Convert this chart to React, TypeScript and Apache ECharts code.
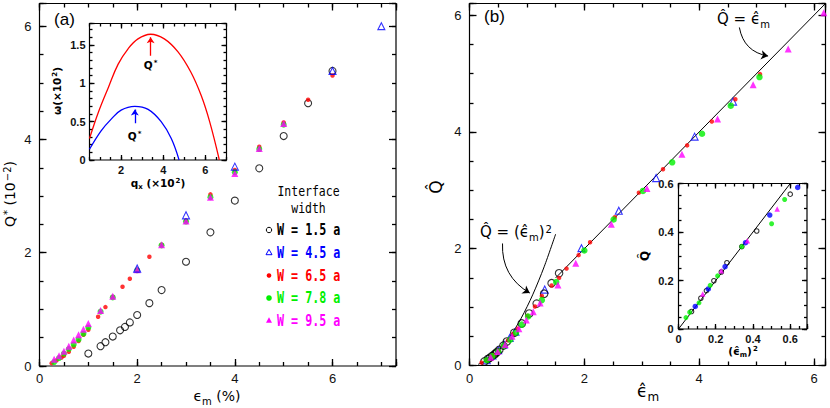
import React, { useEffect, useRef } from "react";
import * as echarts from "echarts";

// ---------------- Panel (a): Q* vs eps_m ----------------
const epsA_W15 = [1.0, 1.25, 1.35, 1.5, 1.65, 1.75, 1.85, 2.0, 2.25, 2.5, 3.0, 3.5, 4.0, 4.5, 5.0, 5.5, 6.0];
const QA_W15 = [0.22, 0.35, 0.42, 0.52, 0.63, 0.69, 0.77, 0.9, 1.11, 1.34, 1.84, 2.36, 2.92, 3.49, 4.06, 4.64, 5.21];
const epsA_W45 = [2.0, 3.0, 4.0, 6.0, 7.0];
const QA_W45 = [1.72, 2.66, 3.52, 5.21, 6.0];
const epsA_W65 = [0.25, 0.35, 0.45, 0.5, 0.6, 0.7, 0.8, 0.9, 1.0, 1.2, 1.35, 1.5, 1.7, 1.85, 2.0, 2.25, 2.5, 3.0, 3.5, 4.0, 4.5, 5.0, 5.5, 6.0];
const QA_W65 = [0.05, 0.1, 0.15, 0.18, 0.25, 0.34, 0.44, 0.55, 0.64, 0.87, 1.04, 1.22, 1.4, 1.54, 1.7, 1.93, 2.14, 2.57, 3.03, 3.46, 3.87, 4.3, 4.7, 5.13];
const epsA_W78 = [0.3, 0.4, 0.5, 0.6, 0.7, 0.8, 0.9, 1.0, 1.25, 1.5, 2.0, 2.5, 3.0, 3.5, 4.0, 4.5, 5.0];
const QA_W78 = [0.07, 0.14, 0.22, 0.3, 0.38, 0.47, 0.57, 0.68, 0.96, 1.21, 1.69, 2.13, 2.55, 2.98, 3.42, 3.83, 4.26];
const epsA_W95 = [0.3, 0.4, 0.5, 0.6, 0.7, 0.8, 0.9, 1.0, 1.25, 1.5, 2.0, 2.5, 3.0, 3.5, 4.0, 4.5, 5.0];
const QA_W95 = [0.12, 0.18, 0.26, 0.35, 0.46, 0.55, 0.65, 0.75, 0.98, 1.23, 1.7, 2.14, 2.56, 2.98, 3.4, 3.84, 4.28];

// Inset (a): growth rate omega vs q_x
const qRed = [0.5, 0.93, 1.4, 1.86, 2.33, 2.8, 3.4, 4.05, 4.7, 5.3, 5.8, 6.2, 6.66];
const omegaRed = [0.28, 0.63, 0.95, 1.25, 1.45, 1.58, 1.64, 1.58, 1.41, 1.15, 0.84, 0.5, 0.0];
const qBlue = [0.5, 1.05, 1.52, 2.0, 2.65, 3.28, 3.9, 4.38, 4.75];
const omegaBlue = [0.14, 0.38, 0.53, 0.65, 0.7, 0.66, 0.5, 0.28, 0.0];
const arrowRedA = [[3.4, 1.36], [3.4, 1.6]];
const arrowBlueA = [[2.65, 0.48], [2.65, 0.66]];

// ---------------- Panel (b): scaled Q vs scaled eps ----------------
const epsB_W15 = [0.26, 0.32, 0.35, 0.39, 0.43, 0.46, 0.48, 0.52, 0.59, 0.65, 0.78, 0.91, 1.04, 1.17, 1.3, 1.43, 1.56];
const QB_W15 = [0.07, 0.11, 0.13, 0.16, 0.19, 0.21, 0.23, 0.27, 0.34, 0.41, 0.56, 0.72, 0.89, 1.06, 1.23, 1.41, 1.58];
const epsB_W45 = [0.3, 0.4, 0.5, 0.6, 0.7, 0.8, 1.31, 1.95, 2.6, 3.25, 3.92, 4.59];
const QB_W45 = [0.09, 0.17, 0.26, 0.36, 0.47, 0.58, 1.3, 2.01, 2.65, 3.21, 3.92, 4.52];
const epsB_W65 = [0.21, 0.3, 0.38, 0.42, 0.51, 0.59, 0.67, 0.76, 0.84, 1.01, 1.14, 1.26, 1.43, 1.56, 1.69, 1.9, 2.1, 2.53, 2.95, 3.37, 3.79, 4.22, 4.63, 5.06];
const QB_W65 = [0.05, 0.1, 0.15, 0.18, 0.25, 0.33, 0.43, 0.54, 0.63, 0.85, 1.01, 1.19, 1.37, 1.5, 1.66, 1.89, 2.11, 2.54, 2.96, 3.36, 3.77, 4.18, 4.56, 4.99];
const epsB_W78 = [0.3, 0.4, 0.5, 0.6, 0.71, 0.81, 0.91, 1.02, 1.26, 1.51, 2.0, 2.51, 3.02, 3.53, 4.05, 4.55, 5.05];
const QB_W78 = [0.09, 0.16, 0.24, 0.34, 0.44, 0.56, 0.7, 0.84, 1.12, 1.43, 1.97, 2.5, 2.99, 3.48, 3.97, 4.45, 4.94];
const epsB_W95 = [0.37, 0.49, 0.62, 0.74, 0.86, 0.99, 1.11, 1.23, 1.54, 1.85, 2.47, 3.09, 3.7, 4.32, 4.94, 5.55, 6.17];
const QB_W95 = [0.14, 0.24, 0.36, 0.5, 0.63, 0.78, 0.92, 1.07, 1.38, 1.75, 2.42, 3.03, 3.62, 4.22, 4.81, 5.42, 6.04];
const lineEps = [1.5, 6.2];
const lineQ = [1.5, 6.2];
const parabEps = [0.15, 0.3, 0.5, 0.7, 0.9, 1.1, 1.3, 1.5];
const parabQ = [0.02, 0.09, 0.25, 0.49, 0.81, 1.21, 1.69, 2.25];
const arrowLinB = [[4.7, 5.79], [5.2, 5.3]];
const arrowParB = [[0.575, 2.09], [1.05, 1.24]];

// Inset (b): Q vs eps^2
const e2_black = [0.07, 0.12, 0.15, 0.19, 0.23, 0.26, 0.34, 0.42, 0.6];
const Qi_black = [0.072, 0.127, 0.158, 0.199, 0.235, 0.273, 0.34, 0.404, 0.556];
const e2_blue = [0.09, 0.16, 0.25, 0.36, 0.49, 0.64];
const Qi_blue = [0.093, 0.165, 0.257, 0.356, 0.47, 0.584];
const e2_green = [0.04, 0.06, 0.11, 0.17, 0.21, 0.34, 0.5, 0.57];
const Qi_green = [0.047, 0.069, 0.108, 0.18, 0.219, 0.34, 0.434, 0.534];
const e2_mag = [0.13, 0.23, 0.37, 0.53];
const Qi_mag = [0.144, 0.24, 0.364, 0.495];
const insetLineX = [0, 0.6];
const insetLineY = [0, 0.6];

// tick labels (major) per axis
const ticksA_x = [0, 2, 4, 6];
const ticksA_y = [0, 2, 4, 6];
const ticksIA_x = [2, 4, 6];
const ticksIA_y = [0, 0.5, 1, 1.5];
const ticksB_x = [0, 2, 4, 6];
const ticksB_y = [0, 2, 4, 6];
const ticksIB_x = [0, 0.2, 0.4, 0.6];
const ticksIB_y = [0, 0.2, 0.4, 0.6];

const legendNames = ["W = 1.5 a", "W = 4.5 a", "W = 6.5 a", "W = 7.8 a", "W = 9.5 a"];

const C_BLACK = "#000000";
const C_BLUE = "#0000ff";
const C_RED = "#ff0000";
const C_GREEN = "#00f000";
const C_MAG = "#ff00ff";

const TICK_FONT = "Liberation Sans";
const MATH_FONT = "DejaVu Sans";

const pair = (xs: number[], ys: number[]) => xs.map((x, i) => [x, ys[i]]);
const near = (a: number, b: number) => Math.abs(a - b) < 1e-6;
const fmtNum = (v: number) => String(parseFloat(v.toFixed(3)));

type GridBox = { left: number; top: number; width: number; height: number };
type GridCfg = {
  xmin: number; xmax: number; ymin: number; ymax: number;
  xStep: number; yStep: number; xMinor: number; yMinor: number;
  xLabels: number[]; yLabels: number[];
  majLen: number; minLen: number; font: number; weight: string; xMargin: number; yMargin: number;
};

// Built-in axes: for each side one axis with short (minor) ticks that also carries the labels,
// plus one axis with long (major) ticks where min is a multiple of the major step.
function axesFor(g: number, c: GridCfg) {
  const lab = (labels: number[], margin: number) => ({
    show: true,
    margin,
    color: "#111",
    fontFamily: TICK_FONT,
    fontSize: c.font,
    fontWeight: c.weight,
    hideOverlap: false,
    showMinLabel: true,
    showMaxLabel: true,
    formatter: (v: number) => (labels.some((l) => near(l, v)) ? fmtNum(v) : ""),
  });
  const tick = (len: number) => ({ show: true, inside: true, length: len, lineStyle: { color: "#000", width: 1.3 } });
  const mk = (position: string, min: number, max: number, interval: number, len: number, label: any) => ({
    type: "value",
    gridIndex: g,
    position,
    min,
    max,
    interval,
    axisLine: { show: false, onZero: false },
    axisTick: tick(len),
    axisLabel: label || { show: false },
    splitLine: { show: false },
    splitArea: { show: false },
    minorTick: { show: false },
    minorSplitLine: { show: false },
  });
  const xMajMin = Math.ceil(c.xmin / c.xStep - 1e-6) * c.xStep;
  const yMajMin = Math.ceil(c.ymin / c.yStep - 1e-6) * c.yStep;
  // major-tick axes use a min that is a multiple of the major step; if it differs from the grid min,
  // we still need the same scale, so majors only get drawn when the min already aligns.
  const xAlign = near(xMajMin, c.xmin);
  const yAlign = near(yMajMin, c.ymin);
  const xs: any[] = [
    mk("bottom", c.xmin, c.xmax, c.xMinor, c.minLen, lab(c.xLabels, c.xMargin)),
    mk("top", c.xmin, c.xmax, c.xMinor, c.minLen, null),
  ];
  const ys: any[] = [
    mk("left", c.ymin, c.ymax, c.yMinor, c.minLen, lab(c.yLabels, c.yMargin)),
    mk("right", c.ymin, c.ymax, c.yMinor, c.minLen, null),
  ];
  if (xAlign) {
    xs.push(mk("bottom", c.xmin, c.xmax, c.xStep, c.majLen, null));
    xs.push(mk("top", c.xmin, c.xmax, c.xStep, c.majLen, null));
  }
  if (yAlign) {
    ys.push(mk("left", c.ymin, c.ymax, c.yStep, c.majLen, null));
    ys.push(mk("right", c.ymin, c.ymax, c.yStep, c.majLen, null));
  }
  return { xs, ys, xAlign, yAlign };
}

function scatter(name: string, xi: number, yi: number, xs: number[], ys: number[], symbol: string, size: number, color: string, open: boolean) {
  return {
    type: "scatter",
    name,
    xAxisIndex: xi,
    yAxisIndex: yi,
    data: pair(xs, ys),
    symbol,
    symbolSize: size,
    itemStyle: open
      ? { color: "rgba(0,0,0,0)", borderColor: color, borderWidth: 1.1 }
      : { color, borderWidth: 0 },
    silent: true,
    z: 3,
  };
}

function curve(xi: number, yi: number, xs: number[], ys: number[], color: string, width: number, smooth: boolean | number) {
  return {
    type: "line",
    xAxisIndex: xi,
    yAxisIndex: yi,
    data: pair(xs, ys),
    showSymbol: false,
    symbol: "none",
    smooth,
    lineStyle: { color, width },
    silent: true,
    z: 2,
  };
}

function arrow(xi: number, yi: number, pts: number[][], color: string, width: number, curveness: number, size: number) {
  return {
    type: "lines",
    coordinateSystem: "cartesian2d",
    xAxisIndex: xi,
    yAxisIndex: yi,
    symbol: ["none", "arrow"],
    symbolSize: size,
    lineStyle: { color, width, curveness, opacity: 1 },
    data: [{ coords: pts }],
    silent: true,
    z: 4,
  };
}

// long major ticks for an inset whose x min (0.5) is not a multiple of the major step
function majorTickLines(xi: number, yi: number, vals: number[], y0: number, y1: number, d: number) {
  const data: any[] = [];
  vals.forEach((v) => {
    data.push({ coords: [[v, y0], [v, y0 + d]] });
    data.push({ coords: [[v, y1], [v, y1 - d]] });
  });
  return {
    type: "lines",
    coordinateSystem: "cartesian2d",
    xAxisIndex: xi,
    yAxisIndex: yi,
    symbol: ["none", "none"],
    lineStyle: { color: "#000", width: 1.3, opacity: 1, curveness: 0 },
    data,
    silent: true,
    z: 6,
  };
}

const txt = (x: number, y: number, text: string, rich: any, opts: any = {}) => ({
  type: "text",
  x,
  y,
  rotation: opts.rotation || 0,
  scaleX: opts.scaleX || 1,
  silent: true,
  z: 100,
  style: {
    text,
    rich,
    fill: opts.fill || "#000",
    font: opts.font,
    align: opts.align || "center",
    verticalAlign: opts.verticalAlign || "middle",
    textAlign: opts.align || "center",
    textVerticalAlign: opts.verticalAlign || "middle",
  },
});

function richSet(size: number, weight: string, color: string, family = MATH_FONT) {
  const sub = Math.round(size * 0.68);
  return {
    n: { fontSize: size, fontWeight: weight, fontFamily: family, color, lineHeight: size + 3, verticalAlign: "top" },
    sub: { fontSize: sub, fontWeight: weight, fontFamily: family, color, lineHeight: sub + 2, verticalAlign: "top", padding: [Math.round(size * 0.55), 0, 0, 0] },
    sup: { fontSize: sub, fontWeight: weight, fontFamily: family, color, lineHeight: sub + 2, verticalAlign: "top", padding: [0, 0, 0, 1] },
  };
}

export default function App() {
  const ref = useRef<HTMLDivElement>(null);
  useEffect(() => {
    if (!ref.current) return;
    const chart = echarts.init(ref.current, undefined, { renderer: "svg" });

    const grids: GridBox[] = [
      { left: 39.5, top: 3.5, width: 356.5, height: 362.5 },
      { left: 89.5, top: 23.5, width: 137, height: 136.5 },
      { left: 469.5, top: 3.5, width: 356, height: 362 },
      { left: 678.5, top: 183.5, width: 128.5, height: 145.5 },
    ];

    const cfgs: GridCfg[] = [
      { xmin: 0, xmax: 7.3, ymin: 0, ymax: 6.4, xStep: 2, yStep: 2, xMinor: 0.5, yMinor: 0.5, xLabels: ticksA_x, yLabels: ticksA_y, majLen: 7, minLen: 4, font: 13, weight: "normal", xMargin: 6, yMargin: 8 },
      { xmin: 0.5, xmax: 7, ymin: 0, ymax: 1.78, xStep: 2, yStep: 0.5, xMinor: 0.5, yMinor: 0.1, xLabels: ticksIA_x, yLabels: ticksIA_y, majLen: 5, minLen: 3, font: 11, weight: "bold", xMargin: 4, yMargin: 4 },
      { xmin: 0, xmax: 6.2, ymin: 0, ymax: 6.2, xStep: 2, yStep: 2, xMinor: 0.5, yMinor: 0.5, xLabels: ticksB_x, yLabels: ticksB_y, majLen: 7, minLen: 4, font: 13, weight: "normal", xMargin: 6, yMargin: 8 },
      { xmin: 0, xmax: 0.69, ymin: 0, ymax: 0.6, xStep: 0.2, yStep: 0.2, xMinor: 0.05, yMinor: 0.05, xLabels: ticksIB_x, yLabels: ticksIB_y, majLen: 5, minLen: 3, font: 11, weight: "bold", xMargin: 4, yMargin: 5 },
    ];

    const xAxes: any[] = [];
    const yAxes: any[] = [];
    const xi: number[] = [];
    const yi: number[] = [];
    cfgs.forEach((c, g) => {
      const a = axesFor(g, c);
      xi.push(xAxes.length);
      yi.push(yAxes.length);
      xAxes.push(...a.xs);
      yAxes.push(...a.ys);
    });

    const series: any[] = [
      // panel (a)
      scatter(legendNames[0], xi[0], yi[0], epsA_W15, QA_W15, "circle", 7, C_BLACK, true),
      scatter(legendNames[2], xi[0], yi[0], epsA_W65, QA_W65, "circle", 4.5, C_RED, false),
      scatter(legendNames[3], xi[0], yi[0], epsA_W78, QA_W78, "circle", 6, C_GREEN, false),
      scatter(legendNames[4], xi[0], yi[0], epsA_W95, QA_W95, "triangle", 7, C_MAG, false),
      scatter(legendNames[1], xi[0], yi[0], epsA_W45, QA_W45, "triangle", 7, C_BLUE, true),
      // inset (a)
      curve(xi[1], yi[1], qRed, omegaRed, C_RED, 1.3, 0.4),
      curve(xi[1], yi[1], qBlue, omegaBlue, C_BLUE, 1.3, 0.4),
      arrow(xi[1], yi[1], arrowRedA, C_RED, 1.3, 0, 6),
      arrow(xi[1], yi[1], arrowBlueA, C_BLUE, 1.3, 0, 6),
      majorTickLines(xi[1], yi[1], ticksIA_x, 0, 1.78, 0.065),
      // panel (b)
      curve(xi[2], yi[2], lineEps, lineQ, "#000", 1, false),
      curve(xi[2], yi[2], parabEps, parabQ, "#000", 1, 0.3),
      scatter(legendNames[1], xi[2], yi[2], epsB_W45, QB_W45, "triangle", 7, C_BLUE, true),
      scatter(legendNames[0], xi[2], yi[2], epsB_W15, QB_W15, "circle", 7.5, C_BLACK, true),
      scatter(legendNames[2], xi[2], yi[2], epsB_W65, QB_W65, "circle", 4.5, C_RED, false),
      scatter(legendNames[3], xi[2], yi[2], epsB_W78, QB_W78, "circle", 6.5, C_GREEN, false),
      scatter(legendNames[4], xi[2], yi[2], epsB_W95, QB_W95, "triangle", 7, C_MAG, false),
      arrow(xi[2], yi[2], arrowLinB, "#000", 1, -0.35, 7),
      arrow(xi[2], yi[2], arrowParB, "#000", 1, -0.3, 7),
      // inset (b)
      curve(xi[3], yi[3], insetLineX, insetLineY, "#000", 1, false),
      scatter(legendNames[0], xi[3], yi[3], e2_black, Qi_black, "circle", 4.5, C_BLACK, true),
      scatter(legendNames[1], xi[3], yi[3], e2_blue, Qi_blue, "circle", 5.5, C_BLUE, false),
      scatter(legendNames[3], xi[3], yi[3], e2_green, Qi_green, "circle", 5, C_GREEN, false),
      scatter(legendNames[4], xi[3], yi[3], e2_mag, Qi_mag, "triangle", 5.5, C_MAG, false),
    ];

    const legendColors = [C_BLACK, C_BLUE, C_RED, C_GREEN, C_MAG];
    const rowsY = [230, 252.5, 275.5, 298, 320.5];
    const symX = 269;
    const legendGraphics: any[] = [];
    rowsY.forEach((y, i) => {
      const col = legendColors[i];
      if (i === 0) legendGraphics.push({ type: "circle", silent: true, z: 100, shape: { cx: symX, cy: y, r: 2.7 }, style: { fill: "none", stroke: col, lineWidth: 1 } });
      if (i === 1) legendGraphics.push({ type: "polygon", silent: true, z: 100, shape: { points: [[symX, y - 3.2], [symX - 3, y + 2.2], [symX + 3, y + 2.2]] }, style: { fill: "none", stroke: col, lineWidth: 1 } });
      if (i === 2) legendGraphics.push({ type: "circle", silent: true, z: 100, shape: { cx: symX, cy: y, r: 2.3 }, style: { fill: col } });
      if (i === 3) legendGraphics.push({ type: "circle", silent: true, z: 100, shape: { cx: symX, cy: y, r: 2.8 }, style: { fill: col } });
      if (i === 4) legendGraphics.push({ type: "polygon", silent: true, z: 100, shape: { points: [[symX, y - 3.2], [symX - 3, y + 2.2], [symX + 3, y + 2.2]] }, style: { fill: col } });
      legendGraphics.push(txt(277, y, legendNames[i], undefined, { fill: col, font: "bold 15px 'DejaVu Sans Mono'", align: "left", scaleX: 0.78 }));
    });

    const rA = richSet(14, "normal", "#000");
    const rAx = richSet(14, "normal", "#000");
    const rIn = richSet(10.5, "bold", "#000");
    const rInR = richSet(10.5, "bold", C_RED);
    const rInB = richSet(10.5, "bold", C_BLUE);
    const rB = richSet(15, "normal", "#000");
    const rBig = richSet(17, "normal", "#000");

    const graphics: any[] = [
      txt(64.5, 19, "(a)", undefined, { font: "17px 'Liberation Sans'" }),
      txt(494.5, 16, "(b)", undefined, { font: "17px 'Liberation Sans'" }),
      txt(11, 194, "{n|Q}{sup|*}{n| (10}{sup|−2}{n|)}", rA, { rotation: Math.PI / 2 }),
      txt(217, 397, "{n|ϵ}{sub|m}{n| (%)}", rAx),
      txt(58, 91, "{n|ω(×10}{sup|2}{n|)}", rIn, { rotation: Math.PI / 2 }),
      txt(158, 184, "{n|q}{sub|x}{n| (×10}{sup|2}{n|)}", rIn),
      txt(150.5, 66, "{n|Q}{sup|*}", rInR),
      txt(134.5, 137, "{n|Q}{sup|*}", rInB),
      txt(308.5, 191, "Interface", undefined, { font: "13.5px 'DejaVu Sans Mono'", fill: "#000", scaleX: 0.85 }),
      txt(308.5, 208, "width", undefined, { font: "13.5px 'DejaVu Sans Mono'", fill: "#000", scaleX: 0.85 }),
      ...legendGraphics,
      txt(437, 187, "{n|Q̂}", rBig, { rotation: Math.PI / 2 }),
      txt(648, 392, "{n|ϵ̂}{sub|m}", rBig),
      txt(717, 20, "{n|Q̂ = ϵ̂}{sub|m}", rB, { align: "left" }),
      txt(480, 233, "{n|Q̂ = (ϵ̂}{sub|m}{n|)}{sup|2}", rB, { align: "left" }),
      txt(646, 256, "{n|Q̂}", richSet(12, "bold", "#000"), { rotation: Math.PI / 2 }),
      txt(743, 352, "{n|(ϵ̂}{sub|m}{n|)}{sup|2}", rIn),
    ];

    chart.setOption({
      animation: false,
      grid: grids.map((g) => ({ ...g, containLabel: false, show: true, borderColor: "#000", borderWidth: 1.2 })),
      xAxis: xAxes,
      yAxis: yAxes,
      series,
      graphic: { elements: graphics },
    } as any);

    return () => chart.dispose();
  }, []);

  return (
    <div
      ref={ref}
      style={{ position: "fixed", left: 0, top: 0, width: 830, height: 408, background: "#fff" }}
    />
  );
}
